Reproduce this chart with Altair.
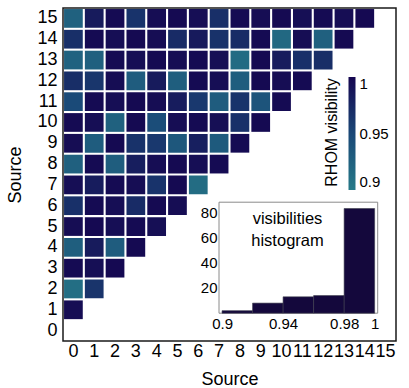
import altair as alt
import pandas as pd

FONT = "Liberation Sans"

sources = list(range(16))

# RHOM visibility for source pairs (row = source i, columns = source j < i)
vis_row1 = [0.995]
vis_row2 = [0.912, 0.965]
vis_row3 = [0.996, 0.993, 0.998]
vis_row4 = [0.928, 0.984, 0.930, 0.997]
vis_row5 = [0.995, 0.998, 0.994, 0.996, 0.993]
vis_row6 = [0.968, 0.996, 0.994, 0.972, 0.997, 0.995]
vis_row7 = [0.994, 0.983, 0.996, 0.995, 0.966, 0.997, 0.914]
vis_row8 = [0.926, 0.996, 0.929, 0.982, 0.995, 0.997, 0.994, 0.996]
vis_row9 = [0.995, 0.930, 0.997, 0.967, 0.962, 0.935, 0.981, 0.932, 0.996]
vis_row10 = [0.996, 0.994, 0.925, 0.997, 0.945, 0.995, 0.996, 0.993, 0.968, 0.997]
vis_row11 = [0.948, 0.996, 0.994, 0.997, 0.995, 0.983, 0.962, 0.930, 0.966, 0.938, 0.996]
vis_row12 = [0.970, 0.964, 0.995, 0.930, 0.984, 0.928, 0.996, 0.994, 0.929, 0.997, 0.995, 0.996]
vis_row13 = [0.924, 0.926, 0.996, 0.994, 0.997, 0.995, 0.996, 0.993, 0.915, 0.997, 0.983, 0.968, 0.970]
vis_row14 = [0.969, 0.996, 0.994, 0.997, 0.995, 0.972, 0.985, 0.967, 0.972, 0.996, 0.918, 0.995, 0.926, 0.997]
vis_row15 = [0.925, 0.984, 0.996, 0.966, 0.995, 0.997, 0.994, 0.969, 0.996, 0.995, 0.997, 0.993, 0.996, 0.995, 0.998]

vis_rows = [vis_row1, vis_row2, vis_row3, vis_row4, vis_row5, vis_row6, vis_row7,
            vis_row8, vis_row9, vis_row10, vis_row11, vis_row12, vis_row13,
            vis_row14, vis_row15]

# histogram of visibilities
hist_bin_start = [0.90, 0.92, 0.94, 0.96, 0.98]
hist_bin_end = [0.92, 0.94, 0.96, 0.98, 1.00]
hist_counts = [2, 8, 13, 14, 83]
hist_x_domain = [0.898, 1.002]
hist_y_domain = [0, 88]
hist_x_ticks = [0.9, 0.94, 0.98, 1.0]
hist_y_ticks = [20, 40, 60, 80]

color_domain = [0.9, 0.95, 1.0]
color_range = ["#267a88", "#1a4877", "#150650"]
legend_values = [0.9, 0.95, 1.0]

records = []
for r, row in enumerate(vis_rows, start=1):
    for c, v in enumerate(row):
        records.append({"col": c, "row": r, "vis": v})
cells = pd.DataFrame(records)

heat = alt.Chart(cells).mark_rect().encode(
    x=alt.X("col:O",
            scale=alt.Scale(domain=sources, paddingInner=0.1, paddingOuter=0.05),
            axis=alt.Axis(title="Source", labelAngle=0, ticks=False, domain=False,
                          labelFontSize=18, titleFontSize=18, labelPadding=1,
                          titlePadding=10, labelOverlap=False, titleFontWeight="normal")),
    y=alt.Y("row:O",
            scale=alt.Scale(domain=sources[::-1], paddingInner=0.1, paddingOuter=0.05),
            axis=alt.Axis(title="Source", ticks=False, domain=False,
                          labelFontSize=18, titleFontSize=18, labelPadding=6,
                          titlePadding=12, titleFontWeight="normal")),
    color=alt.Color("vis:Q",
                    scale=alt.Scale(domain=color_domain, range=color_range,
                                    interpolate="rgb", clamp=True),
                    legend=alt.Legend(title=None, orient="none",
                                      legendX=285.5, legendY=69, direction="vertical",
                                      gradientLength=113, gradientThickness=7,
                                      gradientStrokeWidth=0,
                                      values=legend_values, format="~g",
                                      labelFontSize=15, labelOffset=4)),
)

legend_title = alt.Chart(pd.DataFrame({"t": ["RHOM visibility"]})).mark_text(
    fontSize=16, angle=270, align="center", baseline="middle", color="black", font=FONT
).encode(x=alt.value(268.5), y=alt.value(124.5), text="t:N")

hx = alt.Scale(domain=hist_x_domain, range=[156, 314.7], nice=False, zero=False)
hy = alt.Scale(domain=hist_y_domain, range=[305.2, 194.2], nice=False, zero=False)

hist_df = pd.DataFrame({"start": hist_bin_start, "end": hist_bin_end, "count": hist_counts})
frame_df = pd.DataFrame({"x0": [hist_x_domain[0]], "x1": [hist_x_domain[1]],
                         "y0": [hist_y_domain[0]], "y1": [hist_y_domain[1]]})

frame = alt.Chart(frame_df).mark_rect(fill="white", stroke="#8a8a8a", strokeWidth=1).encode(
    x=alt.X("x0:Q", scale=hx), x2="x1:Q",
    y=alt.Y("y0:Q", scale=hy), y2="y1:Q",
)

bars = alt.Chart(hist_df).mark_rect(color="#14083c", stroke="#3c3c4c", strokeWidth=0.6).encode(
    x=alt.X("start:Q", scale=hx,
            axis=alt.Axis(orient="bottom", offset=-27, values=hist_x_ticks, format="~g",
                          domain=False, ticks=False, grid=False, title=None,
                          labelFontSize=15, labelPadding=2)),
    x2="end:Q",
    y=alt.Y("count:Q", scale=hy,
            axis=alt.Axis(orient="left", offset=-156, values=hist_y_ticks,
                          domain=False, ticks=False, grid=False, title=None,
                          labelFontSize=15, labelPadding=2)),
    y2=alt.datum(0),
)

note = alt.Chart(pd.DataFrame({"t": ["visibilities\nhistogram"]})).mark_text(
    fontSize=16.5, lineBreak="\n", lineHeight=22, align="center", baseline="top",
    color="black", font=FONT,
).encode(x=alt.value(224.5), y=alt.value(203), text="t:N")

inset = alt.layer(frame, bars, note)

chart = alt.layer(heat, legend_title, inset).resolve_scale(
    x="independent", y="independent"
).resolve_axis(x="independent", y="independent").properties(
    width=333, height=333,
    padding={"left": 63, "top": 8, "right": 13, "bottom": 47},
    autosize=alt.AutoSizeParams(type="none"),
).configure(font=FONT, background="white").configure_view(
    stroke="#1a1a1a", strokeWidth=1.5
).configure_axis(
    labelColor="black", titleColor="black", labelFont=FONT, titleFont=FONT
).configure_legend(
    labelColor="black", titleColor="black", labelFont=FONT, titleFont=FONT, padding=0
)

chart.save("out.html", embed_options={"renderer": "svg", "actions": False})
